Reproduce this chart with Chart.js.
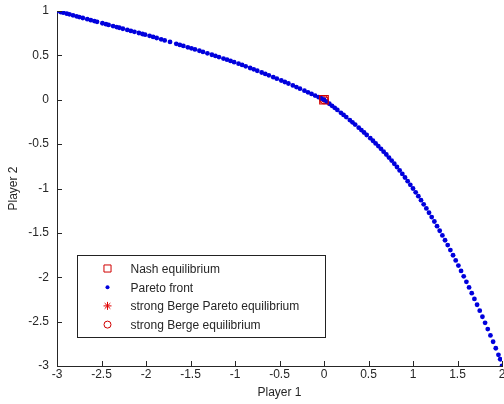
<!DOCTYPE html>
<html>
<head>
<meta charset="utf-8">
<script src="https://cdn.jsdelivr.net/npm/chart.js@4/dist/chart.umd.min.js"></script>
<style>
  html, body { margin: 0; padding: 0; background: #fff; }
  #wrap { width: 504px; height: 404px; }
</style>
</head>
<body>
<div id="wrap"><canvas id="paretoChart" width="504" height="404"></canvas></div>
<script>
// points (Player 1, Player 2)
const paretoX = [
    -3.00, -2.96, -2.93, -2.89, -2.86, -2.82, -2.78, -2.75, -2.71, -2.66, -2.62, -2.58, -2.55,
    -2.49, -2.45, -2.42, -2.37, -2.33, -2.30, -2.26, -2.21, -2.17, -2.13, -2.08, -2.04, -2.01,
    -1.96, -1.92, -1.88, -1.83, -1.79, -1.73, -1.66, -1.62, -1.58, -1.53, -1.49, -1.45, -1.40,
    -1.36, -1.31, -1.26, -1.22, -1.18, -1.13, -1.09, -1.05, -1.01, -0.96, -0.92, -0.88, -0.83,
    -0.79, -0.75, -0.70, -0.66, -0.62, -0.57, -0.53, -0.48, -0.44, -0.40, -0.35, -0.31, -0.27,
    -0.22, -0.18, -0.14, -0.10, -0.06, -0.03, 0.00,
    0.03, 0.06, 0.09, 0.12, 0.15, 0.19, 0.22, 0.25, 0.29, 0.32, 0.35, 0.39, 0.42, 0.45, 0.48,
    0.52, 0.55, 0.58, 0.61, 0.64, 0.67, 0.70, 0.73, 0.76, 0.79, 0.82, 0.85, 0.88, 0.91, 0.94,
    0.97, 1.00, 1.03, 1.06, 1.09, 1.12, 1.15, 1.18, 1.21, 1.24, 1.27, 1.30, 1.33, 1.36, 1.39,
    1.42, 1.45, 1.48, 1.51, 1.54, 1.57, 1.60, 1.63, 1.66, 1.69, 1.72, 1.75, 1.78, 1.81, 1.84,
    1.87, 1.90, 1.93, 1.96, 1.98, 2.00
];
const paretoY = [
    1.000, 0.989, 0.981, 0.970, 0.962, 0.951, 0.940, 0.932, 0.921, 0.908, 0.897, 0.886, 0.878,
    0.862, 0.851, 0.843, 0.830, 0.819, 0.811, 0.800, 0.787, 0.776, 0.765, 0.752, 0.741, 0.733,
    0.720, 0.708, 0.696, 0.681, 0.669, 0.651, 0.630, 0.618, 0.606, 0.591, 0.579, 0.567, 0.552,
    0.539, 0.523, 0.507, 0.494, 0.481, 0.464, 0.451, 0.437, 0.423, 0.406, 0.392, 0.377, 0.358,
    0.343, 0.327, 0.307, 0.291, 0.275, 0.254, 0.238, 0.217, 0.200, 0.183, 0.161, 0.143, 0.125,
    0.102, 0.084, 0.066, 0.047, 0.029, 0.014, 0.000,
    -0.023, -0.045, -0.068, -0.091, -0.115, -0.147, -0.171, -0.195, -0.229, -0.254, -0.280, -0.315,
    -0.342, -0.369, -0.397, -0.433, -0.462, -0.492, -0.522, -0.553, -0.585, -0.617, -0.651, -0.685,
    -0.721, -0.758, -0.796, -0.836, -0.876, -0.917, -0.959, -1.000, -1.043, -1.087, -1.132, -1.178,
    -1.225, -1.273, -1.322, -1.372, -1.424, -1.476, -1.529, -1.583, -1.638, -1.694, -1.752, -1.810,
    -1.869, -1.929, -1.990, -2.052, -2.115, -2.179, -2.244, -2.310, -2.377, -2.445, -2.514, -2.584,
    -2.655, -2.727, -2.800, -2.874, -2.924, -3.000
];
const nashPoint = [0, 0];
const bergeParetoPoint = [0, 0];
const bergePoint = [0, 0];
const seriesLabels = ['Nash equilibrium', 'Pareto front', 'strong Berge Pareto equilibrium', 'strong Berge equilibrium'];
const xTicks = [-3, -2.5, -2, -1.5, -1, -0.5, 0, 0.5, 1, 1.5, 2];
const yTicks = [-3, -2.5, -2, -1.5, -1, -0.5, 0, 0.5, 1];

const textColor = '#262626';
const fontFamily = '"Liberation Sans", Arial, sans-serif';

// MATLAB style inward tick marks
const inwardTicks = {
    id: 'inwardTicks',
    afterDatasetsDraw(chart) {
        const ctx = chart.ctx;
        const area = chart.chartArea;
        const xs = chart.scales.x;
        const ys = chart.scales.y;
        ctx.save();
        ctx.strokeStyle = textColor;
        ctx.lineWidth = 1;
        ctx.beginPath();
        xTicks.forEach(v => {
            const px = Math.round(xs.getPixelForValue(v)) + 0.5;
            ctx.moveTo(px, area.bottom);
            ctx.lineTo(px, area.bottom - 5);
        });
        yTicks.forEach(v => {
            const py = Math.round(ys.getPixelForValue(v)) + 0.5;
            ctx.moveTo(area.left, py);
            ctx.lineTo(area.left + 5, py);
        });
        ctx.stroke();
        ctx.restore();
    }
};

// legend box inside the plot, lower left
const boxLegend = {
    id: 'boxLegend',
    afterDraw(chart) {
        const ctx = chart.ctx;
        const area = chart.chartArea;
        const left = area.left + 20.5;
        const top = area.top + 244.5;
        const w = 248;
        const h = 82;
        ctx.save();
        ctx.fillStyle = '#fff';
        ctx.fillRect(left, top, w, h);
        ctx.strokeStyle = '#222';
        ctx.lineWidth = 1;
        ctx.strokeRect(left, top, w, h);
        ctx.font = '12px ' + fontFamily;
        ctx.textBaseline = 'middle';
        ctx.textAlign = 'left';
        chart.data.datasets.forEach((ds, i) => {
            const rowY = top + 13 + i * 18.7;
            ctx.strokeStyle = ds.borderColor;
            ctx.fillStyle = ds.backgroundColor;
            Chart.helpers.drawPoint(ctx, {
                pointStyle: ds.pointStyle,
                radius: ds.legendRadius,
                rotation: 0,
                borderWidth: ds.borderWidth
            }, left + 30, rowY);
            ctx.fillStyle = textColor;
            ctx.fillText(ds.label, left + 53, rowY + 1);
        });
        ctx.restore();
    }
};

const toPoints = (xs, ys) => xs.map((x, i) => ({ x: x, y: ys[i] }));
const plainLabel = value => String(Math.round(value * 10) / 10);

const ctx = document.getElementById('paretoChart').getContext('2d');
new Chart(ctx, {
    type: 'scatter',
    data: {
        datasets: [
            {
                label: seriesLabels[0],
                data: [{ x: nashPoint[0], y: nashPoint[1] }],
                pointStyle: 'rect',
                radius: 6,
                legendRadius: 5,
                borderColor: '#d00000',
                backgroundColor: 'rgba(0,0,0,0)',
                borderWidth: 1.2
            },
            {
                label: seriesLabels[1],
                data: toPoints(paretoX, paretoY),
                pointStyle: 'circle',
                radius: 2.4,
                legendRadius: 2,
                borderColor: '#0000dd',
                backgroundColor: '#0000dd',
                borderWidth: 0
            },
            {
                label: seriesLabels[2],
                data: [{ x: bergeParetoPoint[0], y: bergeParetoPoint[1] }],
                pointStyle: 'star',
                radius: 4,
                legendRadius: 4,
                borderColor: '#e00000',
                backgroundColor: '#e00000',
                borderWidth: 1.2
            },
            {
                label: seriesLabels[3],
                data: [{ x: bergePoint[0], y: bergePoint[1] }],
                pointStyle: 'circle',
                radius: 4,
                legendRadius: 3.5,
                borderColor: '#d00000',
                backgroundColor: 'rgba(0,0,0,0)',
                borderWidth: 1.2
            }
        ]
    },
    options: {
        responsive: false,
        animation: false,
        events: [],
        layout: { autoPadding: false, padding: { top: 11, right: 2, left: 0, bottom: 0 } },
        scales: {
            x: {
                type: 'linear',
                min: -3,
                max: 2,
                afterBuildTicks: scale => { scale.ticks = xTicks.map(v => ({ value: v })); },
                afterFit: scale => { scale.height = 38; scale.paddingLeft = 0; scale.paddingRight = 0; },
                ticks: {
                    color: textColor,
                    font: { family: fontFamily, size: 12 },
                    padding: 1,
                    maxRotation: 0,
                    autoSkip: false,
                    callback: plainLabel
                },
                grid: { display: false, drawTicks: false },
                border: { display: true, color: textColor, width: 1 },
                title: {
                    display: true,
                    text: 'Player 1',
                    color: textColor,
                    font: { family: fontFamily, size: 12 },
                    padding: { top: 0, bottom: 4 }
                }
            },
            y: {
                type: 'linear',
                min: -3,
                max: 1,
                afterBuildTicks: scale => { scale.ticks = yTicks.map(v => ({ value: v })); },
                afterFit: scale => { scale.width = 57; scale.paddingTop = 0; scale.paddingBottom = 0; },
                ticks: {
                    color: textColor,
                    font: { family: fontFamily, size: 12 },
                    padding: 8,
                    autoSkip: false,
                    callback: plainLabel
                },
                grid: { display: false, drawTicks: false },
                border: { display: true, color: textColor, width: 1 },
                title: {
                    display: true,
                    text: 'Player 2',
                    color: textColor,
                    font: { family: fontFamily, size: 12 },
                    padding: { top: 6, bottom: 0 }
                }
            }
        },
        plugins: {
            legend: { display: false },
            tooltip: { enabled: false }
        }
    },
    plugins: [inwardTicks, boxLegend]
});
</script>
</body>
</html>
